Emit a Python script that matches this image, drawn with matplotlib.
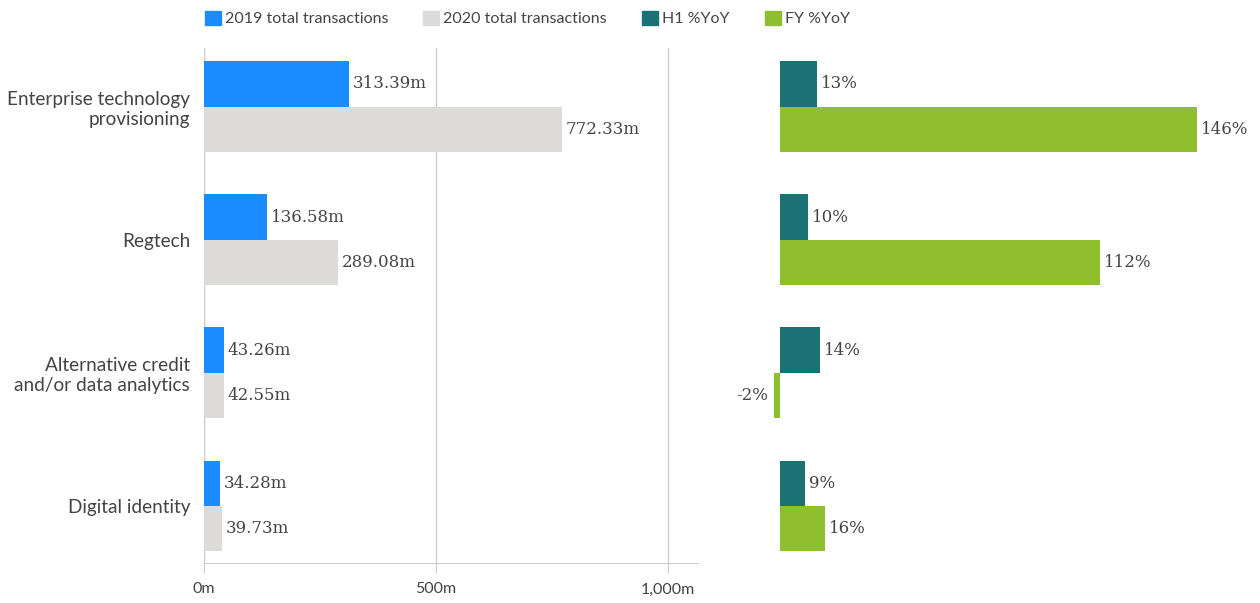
import matplotlib.pyplot as plt
from matplotlib.patches import Patch
import numpy as np

plt.rcParams['font.family'] = ['Lato', 'DejaVu Sans']

categories = ['Enterprise technology\nprovisioning', 'Regtech',
              'Alternative credit\nand/or data analytics', 'Digital identity']
tx_2019 = [313.39, 136.58, 43.26, 34.28]
tx_2020 = [772.33, 289.08, 42.55, 39.73]
h1_yoy = [13, 10, 14, 9]
fy_yoy = [146, 112, -2, 16]

c2019 = '#1a8cff'
c2020 = '#dcdbd9'
c_h1 = '#1b7274'
c_fy = '#8fbf2e'
txt = '#444444'
grid = '#cccccc'
val_font = ['DejaVu Serif']

fig = plt.figure(figsize=(12.6, 6.03), dpi=100)
ax = fig.add_axes([0.1619, 0.0663, 0.392, 0.854])
ax2 = fig.add_axes([0.587, 0.0663, 0.397, 0.854])

y = np.arange(len(categories))
h = 0.34

# left: totals
ax.barh(y - h / 2, tx_2019, height=h, color=c2019, zorder=3)
ax.barh(y + h / 2, tx_2020, height=h, color=c2020, zorder=3)
for yi, v in zip(y, tx_2019):
    ax.text(v + 8, yi - h / 2, f'{v:.2f}m', va='center', ha='left',
            fontsize=12, color=txt, family=val_font)
for yi, v in zip(y, tx_2020):
    ax.text(v + 8, yi + h / 2, f'{v:.2f}m', va='center', ha='left',
            fontsize=12, color=txt, family=val_font)

ax.set_xlim(0, 1065)
ax.set_ylim(3.43, -0.44)
ax.set_xticks([0, 500, 1000])
ax.set_xticklabels(['0m', '500m', '1,000m'])
ax.set_yticks(y)
ax.set_yticklabels(categories)
ax.tick_params(axis='y', length=0, pad=10, labelsize=13.7, labelcolor=txt)
ax.tick_params(axis='x', length=7, color=grid, labelsize=11.5, labelcolor=txt, pad=7)
ax.grid(axis='x', color=grid, linewidth=1, zorder=0)
for s in ['top', 'right']:
    ax.spines[s].set_visible(False)
ax.spines['left'].set_color(grid)
ax.spines['bottom'].set_color(grid)

# right: growth
ax2.barh(y - h / 2, h1_yoy, height=h, color=c_h1)
ax2.barh(y + h / 2, fy_yoy, height=h, color=c_fy)
for yi, v in zip(y, h1_yoy):
    ax2.text(v + 1.4, yi - h / 2, f'{v}%', va='center', ha='left',
             fontsize=12, color=txt, family=val_font)
for yi, v in zip(y, fy_yoy):
    if v < 0:
        ax2.text(v - 2, yi + h / 2, f'{v}%', va='center', ha='right',
                 fontsize=12, color=txt, family=val_font)
    else:
        ax2.text(v + 1.4, yi + h / 2, f'{v}%', va='center', ha='left',
                 fontsize=12, color=txt, family=val_font)
ax2.set_xlim(-14, 161)
ax2.set_ylim(3.43, -0.44)
ax2.axis('off')

handles = [Patch(color=c2019, label='2019 total transactions'),
           Patch(color=c2020, label='2020 total transactions'),
           Patch(color=c_h1, label='H1 %YoY'),
           Patch(color=c_fy, label='FY %YoY')]
leg = fig.legend(handles=handles, ncol=4, loc='upper left',
                 bbox_to_anchor=(0.151, 1.006), frameon=False, fontsize=11.5,
                 handlelength=1.0, handleheight=1.0, handletextpad=0.25,
                 columnspacing=2.2, labelcolor=txt)

fig.savefig('out.png', dpi=100)
